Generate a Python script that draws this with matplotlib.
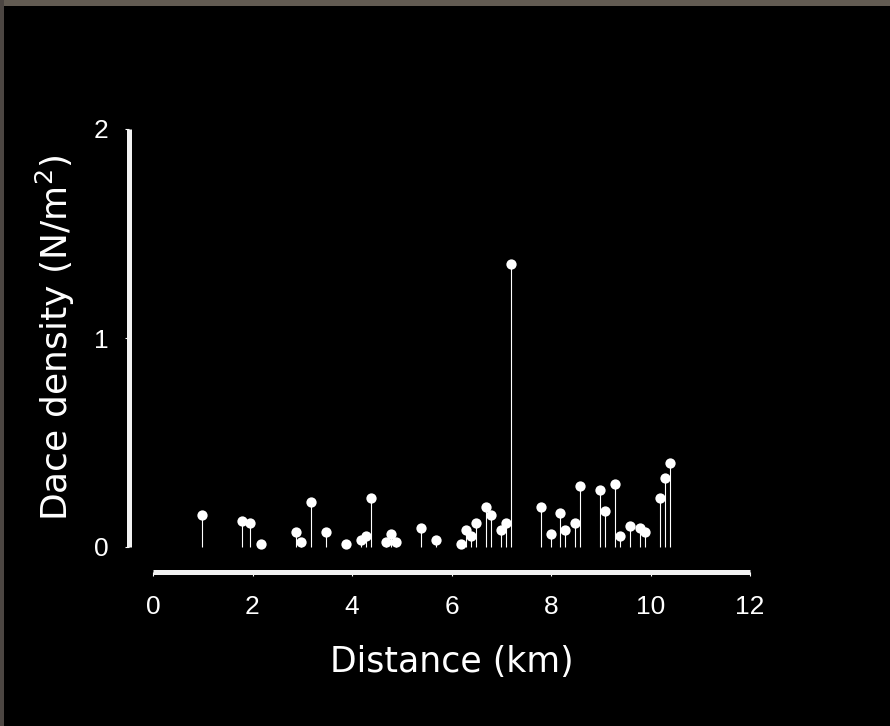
import matplotlib
matplotlib.use("Agg")
import matplotlib.pyplot as plt
from matplotlib.patches import Rectangle

distance_km = [0.98, 1.78, 1.94, 2.18, 2.88, 2.98, 3.18, 3.48, 3.88, 4.19,
               4.28, 4.38, 4.68, 4.78, 4.88, 5.39, 5.69, 6.19, 6.29, 6.39,
               6.49, 6.69, 6.79, 6.99, 7.10, 7.20, 7.79, 7.99, 8.19, 8.29,
               8.49, 8.59, 8.99, 9.09, 9.29, 9.39, 9.59, 9.79, 9.89, 10.19,
               10.29, 10.39]
density = [0.153, 0.123, 0.113, 0.013, 0.073, 0.022, 0.214, 0.073, 0.013, 0.033,
           0.053, 0.233, 0.022, 0.064, 0.022, 0.092, 0.033, 0.013, 0.083, 0.053,
           0.113, 0.193, 0.153, 0.083, 0.113, 1.354, 0.193, 0.062, 0.163, 0.083,
           0.113, 0.292, 0.273, 0.172, 0.303, 0.053, 0.102, 0.092, 0.073, 0.233,
           0.332, 0.402]
x_ticks = [0, 2, 4, 6, 8, 10, 12]
y_ticks = [0, 1, 2]
x_label = "Distance (km)"
y_label = "Dace density (N/m$^{2}$)"

W, H = 890, 726
fig = plt.figure(figsize=(W / 100, H / 100), dpi=100, facecolor="black")

# textured frame edges (top and left)
fig.patches.append(Rectangle((0, 1 - 6 / H), 1, 6 / H, transform=fig.transFigure,
                             facecolor="#625b52", edgecolor="none", zorder=0))
fig.patches.append(Rectangle((0, 0), 3.5 / W, 1, transform=fig.transFigure,
                             facecolor="#4c4642", edgecolor="none", zorder=0))

left, right, top, bottom = 153, 750, 129, 547
ax = fig.add_axes([left / W, 1 - bottom / H, (right - left) / W, (bottom - top) / H])
ax.set_facecolor("black")
ax.set_xlim(0, 12)
ax.set_ylim(0, 2)

ax.vlines(distance_km, 0, density, colors="white", linewidth=0.8, clip_on=False, zorder=2)
ax.plot(distance_km, density, "o", color="white", markersize=7.4,
        markeredgewidth=0, clip_on=False, zorder=3)

for s in ["top", "right"]:
    ax.spines[s].set_visible(False)
ax.spines["left"].set_position(("outward", 24 * 0.72))
ax.spines["bottom"].set_position(("outward", 24.5 * 0.72))
ax.spines["left"].set_bounds(0, 2)
ax.spines["bottom"].set_bounds(0, 12)
for s in ["left", "bottom"]:
    ax.spines[s].set_color("#f2f2f2")
    ax.spines[s].set_linewidth(5 * 0.72)
    ax.spines[s].set_capstyle("butt")

ax.set_xticks(x_ticks)
ax.set_yticks(y_ticks)
ax.set_xticklabels([str(v) for v in x_ticks])
ax.set_yticklabels([str(v) for v in y_ticks])
ax.tick_params(axis="both", colors="white", length=3, width=0.8, labelsize=19,
               direction="out")
ax.tick_params(axis="x", pad=14)
ax.tick_params(axis="y", pad=12)
for lab in ax.get_xticklabels() + ax.get_yticklabels():
    lab.set_fontfamily("Liberation Sans")
    lab.set_color("white")

ax.set_xlabel(x_label, fontsize=25, color="white", family="DejaVu Sans")
ax.xaxis.set_label_coords(0.5, (bottom - 662) / (bottom - top))
ax.xaxis.label.set_va("center")
ax.set_ylabel(y_label, fontsize=26, color="white", family="DejaVu Sans")
ax.yaxis.set_label_coords((55 - left) / (right - left), 0.5)
ax.yaxis.label.set_va("center")

fig.savefig("out.png", dpi=100, facecolor=fig.get_facecolor())
